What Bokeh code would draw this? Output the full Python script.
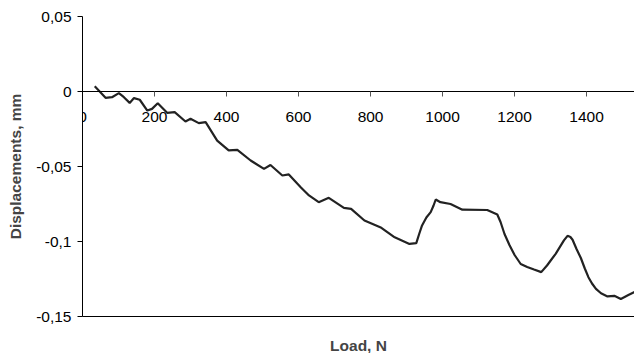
from bokeh.plotting import figure
from bokeh.models import LinearAxis, FixedTicker, CustomJSTickFormatter, Range1d
from bokeh.embed import file_html
from bokeh.resources import INLINE

load = [34, 64, 82, 101, 115, 131, 143, 159, 180, 193, 209, 235, 256, 286, 300,
        323, 342, 374, 406, 430, 467, 504, 522, 555, 573, 606, 629, 656, 684, 726,
        746, 783, 830, 867, 908, 927, 935, 943, 955, 967, 975, 981, 994, 1022,
        1055, 1124, 1152, 1161, 1172, 1186, 1200, 1217, 1235, 1254, 1274, 1290,
        1314, 1337, 1347, 1355, 1361, 1372, 1384, 1395, 1405, 1415, 1426, 1440,
        1458, 1477, 1495, 1516, 1535]
disp = [0.0035, -0.0042, -0.0038, -0.0011, -0.0038, -0.0076, -0.0044, -0.0055,
        -0.0127, -0.0116, -0.0078, -0.0142, -0.0138, -0.020, -0.0182, -0.0211,
        -0.0204, -0.0327, -0.0393, -0.0389, -0.046, -0.0516, -0.049, -0.056,
        -0.0553, -0.0638, -0.0693, -0.0738, -0.0709, -0.0776, -0.0782, -0.086,
        -0.0909, -0.0972, -0.1016, -0.1011, -0.095, -0.0893, -0.084, -0.0804,
        -0.076, -0.072, -0.0738, -0.075, -0.0788, -0.079, -0.082, -0.087,
        -0.095, -0.1025, -0.109, -0.115, -0.117, -0.1187, -0.1204, -0.116,
        -0.1082, -0.0993, -0.0962, -0.097, -0.0988, -0.105, -0.111, -0.118,
        -0.1238, -0.128, -0.1316, -0.1345, -0.1366, -0.1362, -0.1383, -0.1357,
        -0.1335]

x_ticks = [0, 200, 400, 600, 800, 1000, 1200, 1400]
y_ticks = [-0.15, -0.1, -0.05, 0, 0.05]
y_labels = ["-0,15", "-0,1", "-0,05", "0", "0,05"]

FONT = "Liberation Sans"
FS = "15.5px"

p = figure(frame_width=552, frame_height=300, output_backend="svg",
           toolbar_location=None, x_range=Range1d(0, 1533),
           y_range=Range1d(-0.15, 0.05), x_axis_location=None,
           y_axis_location=None, min_border_left=82, min_border_right=0,
           min_border_top=16, min_border_bottom=0)
p.outline_line_color = None
p.background_fill_color = "white"
p.border_fill_color = "white"
p.xgrid.visible = False
p.ygrid.ticker = FixedTicker(ticks=[0.05])
p.ygrid.grid_line_color = "#808080"
p.ygrid.grid_line_width = 1.5

yfmt = CustomJSTickFormatter(args=dict(yt=y_ticks, yl=y_labels), code="""
for (let i = 0; i < yt.length; i++) {
  if (Math.abs(yt[i] - tick) < 1e-9) return yl[i];
}
return '';
""")
yaxis = LinearAxis(ticker=FixedTicker(ticks=y_ticks), formatter=yfmt,
                   axis_label="Displacements, mm",
                   axis_label_text_font=FONT, axis_label_text_font_style="bold",
                   axis_label_text_font_size=FS, axis_label_standoff=9,
                   major_label_text_font=FONT, major_label_text_font_size=FS,
                   major_label_text_color="black", major_label_standoff=6,
                   major_tick_in=0, major_tick_out=5, minor_tick_out=0,
                   minor_tick_in=0, axis_line_color="black",
                   major_tick_line_color="black")
p.add_layout(yaxis, "left")

zero_axis = LinearAxis(fixed_location=0, ticker=FixedTicker(ticks=x_ticks),
                       major_label_text_font=FONT, major_label_text_font_size=FS,
                       major_label_text_color="black", major_label_standoff=15,
                       major_tick_in=0, major_tick_out=5, minor_tick_out=0,
                       minor_tick_in=0, axis_line_color="black",
                       major_tick_line_color="#555555")
p.add_layout(zero_axis, "below")

bottom_axis = LinearAxis(ticker=FixedTicker(ticks=[]), axis_label="Load, N",
                         axis_label_text_font=FONT, axis_label_text_font_style="bold",
                         axis_label_text_font_size=FS, axis_label_standoff=20,
                         major_label_text_font_size="0px", major_tick_out=0,
                         minor_tick_out=0, axis_line_color="black")
p.add_layout(bottom_axis, "below")

p.line(load, disp, line_color="#222222", line_width=2.2)

open("out.html", "w").write(file_html(p, INLINE))
